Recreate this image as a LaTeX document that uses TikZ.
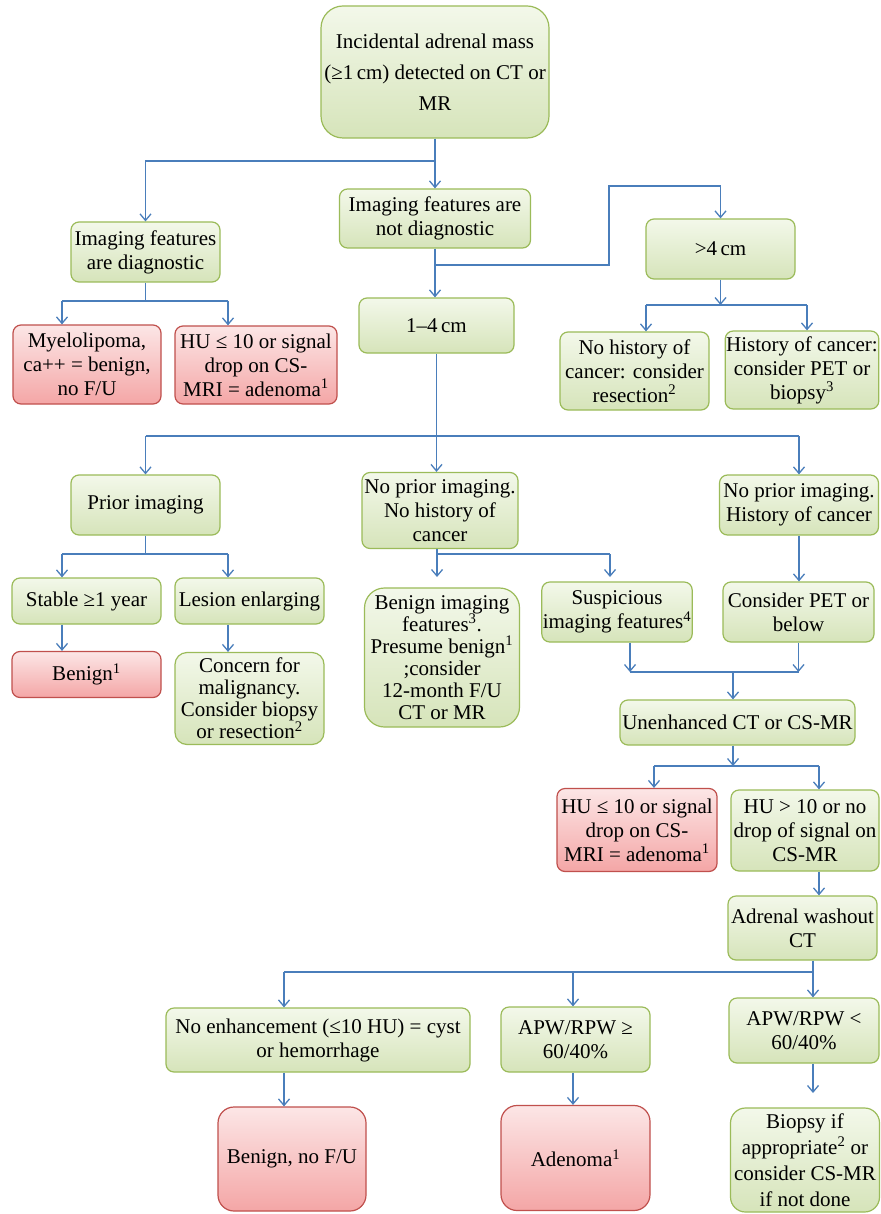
\documentclass[tikz,border=0pt]{standalone}
\usepackage{fontspec}
\setmainfont{Liberation Serif}
\usetikzlibrary{arrows.meta}
\definecolor{gfillA}{RGB}{243,248,234}
\definecolor{gfillB}{RGB}{214,228,186}
\definecolor{gborder}{RGB}{155,187,89}
\definecolor{rfillA}{RGB}{252,230,230}
\definecolor{rfillB}{RGB}{244,166,166}
\definecolor{rborder}{RGB}{192,80,77}
\definecolor{conn}{RGB}{74,126,187}
\tikzset{
  box/.style={rectangle, rounded corners=8pt, line width=1.2pt, align=center, inner sep=1pt,
    font=\fontsize{21}{24}\selectfont},
  gbox/.style={box, draw=gborder, top color=gfillA, bottom color=gfillB},
  rbox/.style={box, draw=rborder, top color=rfillA, bottom color=rfillB},
  wire/.style={draw=conn, line width=1.3pt},
  arr/.style={wire, -{Straight Barb[length=6.5pt,width=11pt]}},
}
\begin{document}
\begin{tikzpicture}[x=1pt,y=1pt]
\useasboundingbox[fill=white] (0,0) rectangle (880,-1214);

% ---- nodes ----
\node[gbox, rounded corners=22pt, minimum width=228pt, minimum height=132pt, font=\fontsize{21}{31}\selectfont]
  (top) at (435,-72) {Incidental adrenal mass\\(≥1\,cm) detected on CT or\\MR};
\node[gbox, minimum width=149pt, minimum height=60pt] (diag) at (145.5,-252) {Imaging features\\are diagnostic};
\node[gbox, minimum width=191pt, minimum height=59pt] (notdiag) at (435,-218.5) {Imaging features are\\not diagnostic};
\node[gbox, minimum width=149pt, minimum height=60pt] (gt4) at (720.5,-249) {>4\,cm};
\node[gbox, minimum width=155pt, minimum height=55pt] (cm14) at (436.5,-325.5) {1–4\,cm};
\node[rbox, minimum width=148pt, minimum height=79pt] (mye) at (87,-364.5) {Myelolipoma,\\ca++ = benign,\\no F/U};
\node[rbox, minimum width=162pt, minimum height=78pt] (hu1) at (256,-365) {HU ≤ 10 or signal\\drop on CS-\\MRI = adenoma\textsuperscript{1}};
\node[gbox, minimum width=149pt, minimum height=78pt] (nohist) at (634.5,-371) {No history of\\cancer: consider\\resection\textsuperscript{2}};
\node[gbox, minimum width=153pt, minimum height=78pt] (hist) at (802,-370) {History of cancer:\\consider PET or\\biopsy\textsuperscript{3}};

\node[gbox, minimum width=149pt, minimum height=60pt] (prior) at (145.5,-505) {Prior imaging};
\node[gbox, minimum width=156pt, minimum height=76pt] (noprior1) at (440,-510.5) {No prior imaging.\\No history of\\cancer};
\node[gbox, minimum width=159pt, minimum height=60pt] (noprior2) at (799,-505) {No prior imaging.\\History of cancer};

\node[gbox, minimum width=149pt, minimum height=46pt] (stable) at (86.5,-601) {Stable ≥1 year};
\node[gbox, minimum width=149pt, minimum height=46pt] (lesion) at (249.5,-601) {Lesion enlarging};
\node[rbox, minimum width=149pt, minimum height=46pt] (benign1) at (86.5,-674.5) {Benign\textsuperscript{1}};
\node[gbox, rounded corners=12pt, minimum width=149pt, minimum height=92pt, font=\fontsize{21}{22}\selectfont]
  (concern) at (249.5,-698.5) {Concern for\\malignancy.\\Consider biopsy\\or resection\textsuperscript{2}};
\node[gbox, rounded corners=20pt, minimum width=155pt, minimum height=139pt, font=\fontsize{21}{22}\selectfont]
  (benimg) at (442,-657.5) {Benign imaging\\features\textsuperscript{3}.\\Presume benign\textsuperscript{1}\\;consider\\12-month F/U\\CT or MR};
\node[gbox, minimum width=150pt, minimum height=60pt] (susp) at (617,-612) {Suspicious\\imaging features\textsuperscript{4}};
\node[gbox, minimum width=151pt, minimum height=60pt] (conspet) at (798.5,-612) {Consider PET or\\below};

\node[gbox, minimum width=235pt, minimum height=45pt] (unenh) at (737.5,-722.5) {Unenhanced CT or CS-MR};
\node[rbox, minimum width=160pt, minimum height=83pt] (hu2) at (637,-830) {HU ≤ 10 or signal\\drop on CS-\\MRI = adenoma\textsuperscript{1}};
\node[gbox, minimum width=148pt, minimum height=81pt] (hugt) at (805,-830.5) {HU > 10 or no\\drop of signal on\\CS-MR};
\node[gbox, minimum width=149pt, minimum height=64pt] (wash) at (802.5,-928) {Adrenal washout\\CT};

\node[gbox, minimum width=304pt, minimum height=64pt] (noenh) at (318,-1040) {No enhancement (≤10 HU) = cyst\\or hemorrhage};
\node[gbox, minimum width=149pt, minimum height=65pt] (apwge) at (575.5,-1039.5) {APW/RPW ≥\\60/40\%};
\node[gbox, minimum width=150pt, minimum height=65pt] (apwlt) at (804,-1030.5) {APW/RPW <\\60/40\%};

\node[rbox, rounded corners=16pt, minimum width=148pt, minimum height=104pt] (bennofu) at (292,-1159) {Benign, no F/U};
\node[rbox, rounded corners=16pt, minimum width=149pt, minimum height=105pt] (adenoma) at (575.5,-1158) {Adenoma\textsuperscript{1}};
\node[gbox, rounded corners=15pt, minimum width=149pt, minimum height=104pt, font=\fontsize{21}{26}\selectfont]
  (biopsy) at (805,-1160) {Biopsy if\\appropriate\textsuperscript{2} or\\consider CS-MR\\if not done};

% ---- connectors ----
\coordinate (j1) at (435,-161);
\draw[wire] (top.south) -- (j1);
\draw[arr] (j1) -| (diag.north);
\draw[arr] (j1) -- (notdiag.north);

\coordinate (j2) at (435,-265);
\coordinate (j2b) at (609,-265);
\coordinate (j2c) at (609,-186);
\draw[arr] (notdiag.south) -- (notdiag.south |- cm14.north);
\draw[arr] (j2) -- (j2b) -- (j2c) -| (gt4.north);

\coordinate (j3) at (145.5,-301);
\coordinate (j3l) at (62,-301);
\coordinate (j3r) at (228,-301);
\draw[wire] (diag.south) -- (j3);
\draw[wire] (j3l) -- (j3r);
\draw[arr] (j3l) -- (j3l |- mye.north);
\draw[arr] (j3r) -- (j3r |- hu1.north);

\coordinate (j4) at (720.5,-305);
\coordinate (j4l) at (646,-305);
\coordinate (j4r) at (807,-305);
\draw[arr] (gt4.south) -- (j4);
\draw[wire] (j4l) -- (j4r);
\draw[arr] (j4l) -- (j4l |- nohist.north);
\draw[arr] (j4r) -- (j4r |- hist.north);

\coordinate (j5) at (436.5,-436);
\coordinate (j5l) at (145.5,-436);
\coordinate (j5r) at (799,-436);
\draw[wire] (cm14.south) -- (j5);
\draw[wire] (j5l) -- (j5r);
\draw[arr] (j5l) -- (prior.north);
\draw[arr] (j5) -- (j5 |- noprior1.north);
\draw[arr] (j5r) -- (noprior2.north);

\coordinate (j6) at (145.5,-554);
\coordinate (j6l) at (62,-554);
\coordinate (j6r) at (228,-554);
\draw[wire] (prior.south) -- (j6);
\draw[wire] (j6l) -- (j6r);
\draw[arr] (j6l) -- (j6l |- stable.north);
\draw[arr] (j6r) -- (j6r |- lesion.north);
\draw[arr] (stable.south -| j6l) -- (j6l |- benign1.north);
\draw[arr] (lesion.south -| j6r) -- (j6r |- concern.north);

\coordinate (j7) at (437,-554);
\coordinate (j7r) at (610,-554);
\coordinate (e7l) at (437,-577);
\coordinate (e7r) at (610,-577);
\draw[wire] (noprior1.south -| j7) -- (j7) -- (j7r);
\draw[arr] (j7) -- (e7l);
\draw[arr] (j7r) -- (e7r);

\draw[arr] (noprior2.south) -- (noprior2.south |- conspet.north);

\coordinate (j8l) at (630,-672);
\coordinate (j8r) at (798.5,-672);
\coordinate (j8) at (733,-672);
\draw[arr] (susp.south -| j8l) -- (j8l);
\draw[arr] (conspet.south) -- (j8r);
\draw[wire] (j8l) -- (j8r);
\draw[arr] (j8) -- (j8 |- unenh.north);

\coordinate (j9) at (733,-766);
\coordinate (j9l) at (654,-766);
\coordinate (j9r) at (819,-766);
\draw[arr] (unenh.south -| j9) -- (j9);
\draw[wire] (j9l) -- (j9r);
\draw[arr] (j9l) -- (j9l |- hu2.north);
\draw[arr] (j9r) -- (j9r |- hugt.north);
\draw[arr] (hugt.south -| j9r) -- (j9r |- wash.north);

\coordinate (j10) at (813,-972);
\coordinate (j10l) at (284,-972);
\coordinate (j10m) at (573,-972);
\draw[wire] (wash.south -| j10) -- (j10) -- (j10l);
\draw[arr] (j10l) -- (j10l |- noenh.north);
\draw[arr] (j10m) -- (j10m |- apwge.north);
\draw[arr] (j10) -- (j10 |- apwlt.north);

\coordinate (e11) at (813,-1093);
\draw[arr] (noenh.south -| j10l) -- (j10l |- bennofu.north);
\draw[arr] (apwge.south -| j10m) -- (j10m |- adenoma.north);
\draw[arr] (apwlt.south -| j10) -- (e11);
\end{tikzpicture}
\end{document}
